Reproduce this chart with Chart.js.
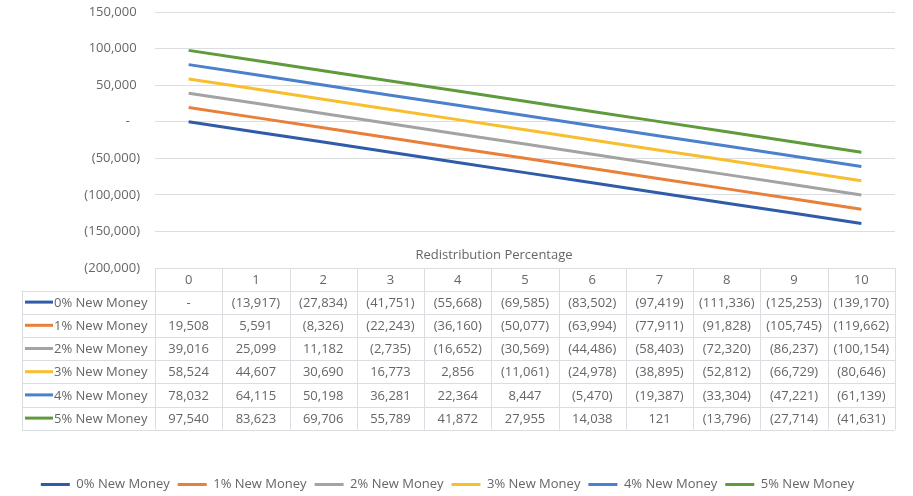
<!DOCTYPE html>
<html lang="en">
<head>
<meta charset="UTF-8">
<title>New Money vs Redistribution</title>
<script src="https://cdn.jsdelivr.net/npm/chart.js@4.4.4/dist/chart.umd.min.js"></script>
<style>
  html, body { margin: 0; padding: 0; background: #fff; }
  .chart-wrap { position: relative; width: 913px; height: 496px; }
</style>
</head>
<body>
<div class="chart-wrap"><canvas id="redistChart"></canvas></div>
<script>
// Redistribution percentage steps (x axis / table header)
const percentages = ['0', '1', '2', '3', '4', '5', '6', '7', '8', '9', '10'];

const seriesNames = ['0% New Money', '1% New Money', '2% New Money', '3% New Money', '4% New Money', '5% New Money'];

const newMoney0 = [0, -13917, -27834, -41751, -55668, -69585, -83502, -97419, -111336, -125253, -139170];
const newMoney1 = [19508, 5591, -8326, -22243, -36160, -50077, -63994, -77911, -91828, -105745, -119662];
const newMoney2 = [39016, 25099, 11182, -2735, -16652, -30569, -44486, -58403, -72320, -86237, -100154];
const newMoney3 = [58524, 44607, 30690, 16773, 2856, -11061, -24978, -38895, -52812, -66729, -80646];
const newMoney4 = [78032, 64115, 50198, 36281, 22364, 8447, -5470, -19387, -33304, -47221, -61139];
const newMoney5 = [97540, 83623, 69706, 55789, 41872, 27955, 14038, 121, -13796, -27714, -41631];

const yTicks = [150000, 100000, 50000, 0, -50000, -100000, -150000, -200000];

const seriesColors = ['#2f5ba8', '#e8803a', '#a3a3a3', '#f7bf2e', '#4a80cc', '#5f9b3c'];
const allSeries = [newMoney0, newMoney1, newMoney2, newMoney3, newMoney4, newMoney5];

const FONT = '"Open Sans", "Liberation Sans", sans-serif';
const TEXT = '#666666';
const RULE = '#dadde2';
const ROW_H = 23.2;
const HEAD_H = 22.5;

// accounting style: 1,234 / (1,234) / -
function accounting(v) {
    if (v === 0) return '-';
    const s = Math.abs(v).toLocaleString('en-US');
    return v < 0 ? `(${s})` : s;
}

// data table drawn under the plot, columns follow the category scale
const dataTablePlugin = {
    id: 'dataTable',
    afterDraw(chart) {
        const { ctx, chartArea, scales } = chart;
        const x = scales.x;
        const colW = (chartArea.right - chartArea.left) / percentages.length;
        const top = chartArea.bottom;
        const bodyTop = top + HEAD_H;
        const bottom = bodyTop + ROW_H * allSeries.length;
        const tableLeft = 22;

        ctx.save();
        ctx.strokeStyle = RULE;
        ctx.lineWidth = 1;
        ctx.beginPath();
        for (let i = 0; i <= percentages.length; i++) {
            const px = Math.round(chartArea.left + i * colW) + 0.5;
            ctx.moveTo(px, top);
            ctx.lineTo(px, bottom);
        }
        ctx.moveTo(tableLeft + 0.5, bodyTop);
        ctx.lineTo(tableLeft + 0.5, bottom);
        for (let r = 0; r <= allSeries.length; r++) {
            const py = Math.round(bodyTop + r * ROW_H) + 0.5;
            ctx.moveTo(tableLeft, py);
            ctx.lineTo(chartArea.right, py);
        }
        ctx.stroke();

        ctx.font = `13px ${FONT}`;
        ctx.fillStyle = TEXT;
        ctx.textBaseline = 'middle';
        ctx.textAlign = 'center';
        percentages.forEach((p, i) => {
            ctx.fillText(p, x.getPixelForValue(i), top + HEAD_H / 2 + 1);
        });

        allSeries.forEach((values, r) => {
            const cy = bodyTop + r * ROW_H + ROW_H / 2 + 1;
            ctx.textAlign = 'center';
            ctx.fillStyle = TEXT;
            values.forEach((v, i) => {
                ctx.fillText(accounting(v), x.getPixelForValue(i), cy);
            });
            ctx.strokeStyle = seriesColors[r];
            ctx.lineWidth = 3;
            ctx.beginPath();
            ctx.moveTo(tableLeft + 3, cy - 1);
            ctx.lineTo(tableLeft + 31, cy - 1);
            ctx.stroke();
            ctx.textAlign = 'left';
            ctx.fillText(seriesNames[r], tableLeft + 32, cy);
        });

        ctx.font = `13px ${FONT}`;
        ctx.textAlign = 'center';
        ctx.fillText('Redistribution Percentage', 494, top - 13);
        ctx.restore();
    },
};

new Chart(document.getElementById('redistChart'), {
    type: 'line',
    data: {
        labels: percentages,
        datasets: allSeries.map((values, i) => ({
            label: seriesNames[i],
            data: values,
            borderColor: seriesColors[i],
            backgroundColor: seriesColors[i],
            borderWidth: 3,
            pointRadius: 0,
            tension: 0,
        })),
    },
    options: {
        responsive: true,
        maintainAspectRatio: false,
        animation: false,
        // small negative bottom padding pulls the legend row closer to the edge
        layout: { padding: { top: 12, right: 18, left: 0, bottom: -5 } },
        plugins: {
            tooltip: { enabled: false },
            legend: {
                position: 'bottom',
                labels: {
                    boxWidth: 29,
                    boxHeight: 3,
                    padding: 8,
                    color: TEXT,
                    font: { family: FONT, size: 13 },
                    generateLabels(chart) {
                        return Chart.defaults.plugins.legend.labels.generateLabels(chart)
                            .map((item) => ({ ...item, lineWidth: 0 }));
                    },
                },
            },
        },
        scales: {
            x: {
                type: 'category',
                offset: true,
                grid: { display: false },
                border: { display: false },
                ticks: { display: false },
                afterFit(scale) { scale.height = 202; },
            },
            y: {
                min: -200000,
                max: 150000,
                afterFit(scale) {
                    scale.width = 155;
                    // tick padding is horizontal only here, keep it out of the top/bottom overflow
                    scale.paddingTop = 8;
                    scale.paddingBottom = 8;
                },
                afterBuildTicks(scale) {
                    scale.ticks = yTicks.map((v) => ({ value: v }));
                },
                grid: { color: RULE, drawTicks: false },
                border: { display: false },
                ticks: {
                    padding: 15,
                    color: TEXT,
                    font: { family: FONT, size: 13 },
                    callback(v) {
                        if (v === 0) return '-   ';
                        return v < 0 ? accounting(v) : accounting(v) + ' ';
                    },
                },
            },
        },
    },
    plugins: [dataTablePlugin],
});
</script>
</body>
</html>
